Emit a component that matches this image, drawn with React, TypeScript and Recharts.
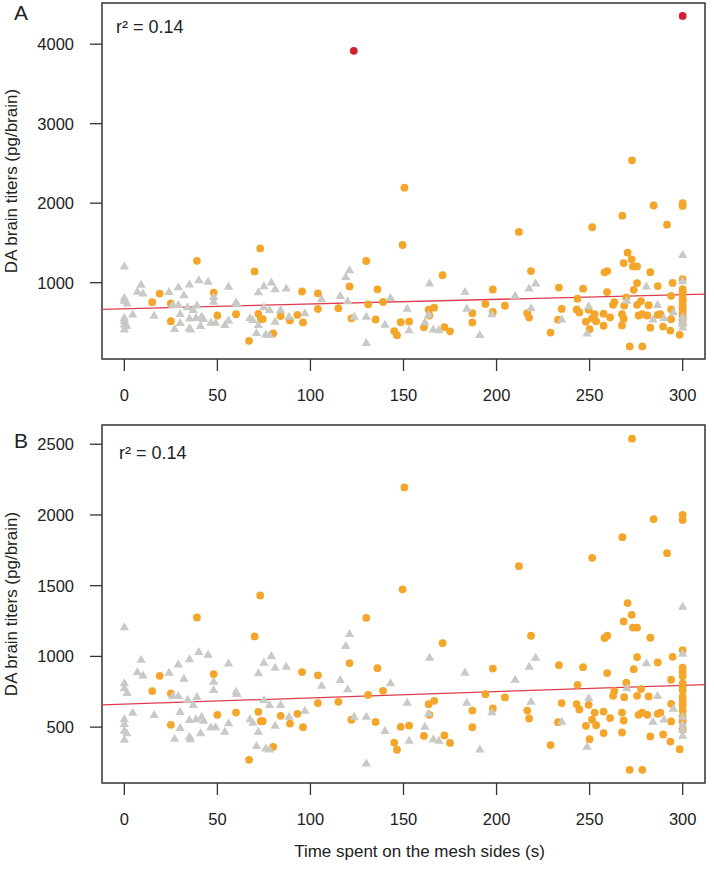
import { ScatterChart, Scatter, XAxis, YAxis, ReferenceArea, ReferenceLine } from 'recharts';

// time on mesh sides (s), DA titre (pg/brain)
const greyPoints: [number, number][] = [
  [0, 1207], [9, 978], [7, 889], [10, 866], [24, 886], [29, 945], [35, 981], [40, 1032], [45, 1013],
  [32, 843], [48, 822], [48, 764], [0, 811], [0, 776], [1.5, 742], [26, 721], [29, 721], [34, 695],
  [39, 714], [37, 658], [4.5, 603], [16, 587], [30, 608], [35, 552], [38.5, 557], [41.5, 575],
  [42.5, 547], [0, 557], [0, 523], [0, 476], [1.3, 458], [0, 413], [30, 495], [27, 419], [35, 434],
  [35.5, 415], [41, 458], [46.5, 500], [49, 500],
  [56, 952], [60, 752], [60.5, 735], [72, 882], [75, 957], [79, 1004], [81, 921], [87, 929],
  [75, 693], [78, 658], [84, 658], [67.5, 557], [69, 533], [88.5, 575], [97, 617], [54, 469],
  [56, 528], [72, 469], [81, 511], [71, 368], [76, 351], [78, 344],
  [106, 794], [116, 834], [119, 1075], [121, 1160], [120, 769], [123.5, 575], [130, 575], [140, 474],
  [143, 811], [152, 674], [153, 405], [161.5, 504], [164, 992], [163.5, 598], [166, 415], [169, 405],
  [130, 245], [183, 886], [184, 674], [191, 344], [197.5, 606], [210, 837],
  [217.5, 929], [221, 992], [218.5, 681], [235, 540], [249.5, 705], [248.6, 363], [270, 776],
  [280.5, 953], [286.5, 721], [284, 540], [290, 555], [295, 632], [300, 1352], [300, 1020],
  [300, 575], [300, 520], [300, 485], [300, 440],
];

const orangePoints: [number, number][] = [
  [15, 755], [19, 863], [25, 738], [25, 516], [39, 1275], [48, 875], [50, 587], [60, 603], [70, 1141],
  [73, 1431], [72, 608], [73.3, 542], [74.4, 542], [80, 361], [67, 269], [84, 580], [89, 525],
  [93, 594], [95.5, 889], [96, 500],
  [104, 866], [104, 670], [115, 679], [121, 953], [122, 552], [130, 1273], [131, 728], [135, 537],
  [136, 917], [139, 757], [145, 391], [146.5, 340], [148.5, 502], [149.5, 1474], [150.5, 2195],
  [153, 511], [161, 438], [163.5, 662], [164, 587], [166.5, 686], [171, 1094], [172, 441], [175, 388],
  [187, 617], [187, 500], [194, 733], [198, 914], [198, 632],
  [204.5, 710], [212, 1638], [216.5, 617], [217.5, 561], [218.5, 1146], [229, 373], [233, 535],
  [233.5, 938], [235, 670], [243, 663], [243.5, 799], [244.5, 625], [246.5, 924], [248, 509],
  [249.5, 658], [250, 415], [251.4, 1697], [251.3, 552], [252.7, 603], [253.5, 514], [257.5, 458],
  [257.5, 610], [258, 1130], [259.5, 1146], [259.4, 882], [261, 564], [262.6, 721], [263.3, 755],
  [267.4, 603], [267.4, 462], [267.6, 1843], [268.3, 1247], [268.3, 547], [268.6, 712], [269.7, 815],
  [270.4, 1377], [271.5, 198], [272.6, 1294], [272.8, 2539], [273.3, 1204], [273.7, 910],
  [275.5, 1204], [275.5, 995], [275.5, 721], [276.3, 587], [277.6, 769], [278.2, 603], [278.3, 198],
  [281, 587], [281.7, 717], [282.6, 1132], [282.6, 434], [284.4, 1971], [286.6, 957], [286.6, 594],
  [288, 603], [289.5, 448], [291.6, 1730], [293.4, 398], [293.8, 835], [293.8, 665], [293.8, 540],
  [294.6, 997], [298.4, 344],
  [300, 2000], [300, 1965], [300, 1045], [300, 920], [300, 890], [300, 860], [300, 810], [300, 785],
  [300, 760], [300, 716], [300, 685], [300, 655], [300, 620], [300, 575], [300, 540], [300, 481],
];

const redPoints: [number, number][] = [[123.3, 3916], [300, 4355]];

const fitA: [number, number][] = [[-12, 665], [312, 857]];
const fitB: [number, number][] = [[-12, 657], [312, 801]];

const xTicks = [0, 50, 100, 150, 200, 250, 300];
const xDomain: [number, number] = [-12, 312];
const yTicksA = [1000, 2000, 3000, 4000];
const yDomainA: [number, number] = [40, 4518];
const yTicksB = [500, 1000, 1500, 2000, 2500];
const yDomainB: [number, number] = [105, 2636];

const rSquared = 'r² = 0.14';

const toData = (pts: [number, number][]) => pts.map(([t, v]) => ({ t, v }));

const Dot = (props: any) => <circle cx={props.cx} cy={props.cy} r={3.9} fill={props.fill} />;

const Tri = (props: any) => {
  const { cx, cy, fill } = props;
  const w = 9.4;
  const h = 8;
  return (
    <polygon
      points={`${cx},${cy - h * 0.6} ${cx - w / 2},${cy + h * 0.4} ${cx + w / 2},${cy + h * 0.4}`}
      fill={fill}
    />
  );
};

const FONT = '"Liberation Sans", Arial, sans-serif';
const INK = '#222';

interface PanelProps {
  height: number;
  marginTop: number;
  xAxisHeight: number;
  yDomain: [number, number];
  yTicks: number[];
  fit: [number, number][];
  withRed?: boolean;
  xTitle?: boolean;
}

function Panel({ height, marginTop, xAxisHeight, yDomain, yTicks, fit, withRed, xTitle }: PanelProps) {
  return (
    <ScatterChart width={714} height={height} margin={{ top: marginTop, right: 9, bottom: 0, left: 0 }}>
      <XAxis
        type="number"
        dataKey="t"
        domain={xDomain}
        ticks={xTicks}
        interval={0}
        allowDataOverflow
        axisLine={false}
        tickLine={{ stroke: '#333', strokeWidth: 1.3 }}
        tickSize={12}
        tickMargin={18}
        height={xAxisHeight}
        tick={{ fontSize: 16.5, fill: INK }}
        label={
          xTitle
            ? { value: 'Time spent on the mesh sides (s)', position: 'insideBottom', offset: 17, dx: 16, fontSize: 17, fill: INK }
            : undefined
        }
      />
      <YAxis
        type="number"
        dataKey="v"
        domain={yDomain}
        ticks={yTicks}
        interval={0}
        allowDataOverflow
        axisLine={false}
        tickLine={{ stroke: '#333', strokeWidth: 1.3 }}
        tickSize={12}
        tickMargin={16}
        width={102}
        tick={{ fontSize: 16.5, fill: INK }}
        label={{
          value: 'DA brain titers (pg/brain)',
          angle: -90,
          position: 'insideLeft',
          offset: 11,
          fontSize: 17,
          fill: INK,
          style: { textAnchor: 'middle' },
        }}
      />
      <ReferenceArea
        x1={xDomain[0]}
        x2={xDomain[1]}
        y1={yDomain[0]}
        y2={yDomain[1]}
        fill="none"
        stroke="#333"
        strokeWidth={1.5}
      />
      <Scatter data={toData(orangePoints)} fill="#f4a62a" shape={Dot} isAnimationActive={false} />
      <Scatter data={toData(greyPoints)} fill="#c9c9c5" shape={Tri} isAnimationActive={false} />
      {withRed && <Scatter data={toData(redPoints)} fill="#d2202f" shape={Dot} isAnimationActive={false} />}
      <ReferenceLine
        segment={fit.map(([t, v]) => ({ x: t, y: v }))}
        stroke="#dd3b4e"
        strokeWidth={1.3}
      />
    </ScatterChart>
  );
}

export default function App() {
  return (
    <div style={{ position: 'relative', width: 714, height: 874, fontFamily: FONT, background: '#fff' }}>
      <style>{'body{margin:0}'}</style>
      <div style={{ position: 'absolute', top: 0, left: 0 }}>
        <Panel height={420} marginTop={3} xAxisHeight={61} yDomain={yDomainA} yTicks={yTicksA} fit={fitA} withRed />
      </div>
      <div style={{ position: 'absolute', top: 420, left: 0 }}>
        <Panel height={454} marginTop={5} xAxisHeight={91} yDomain={yDomainB} yTicks={yTicksB} fit={fitB} xTitle />
      </div>
      <svg width={714} height={874} style={{ position: 'absolute', top: 0, left: 0, pointerEvents: 'none' }}>
        <text x={14} y={20} fontSize={21} fill={INK}>A</text>
        <text x={116} y={33} fontSize={18} fill={INK}>{rSquared}</text>
        <text x={14} y={448} fontSize={21} fill={INK}>B</text>
        <text x={119} y={459} fontSize={18} fill={INK}>{rSquared}</text>
      </svg>
    </div>
  );
}
